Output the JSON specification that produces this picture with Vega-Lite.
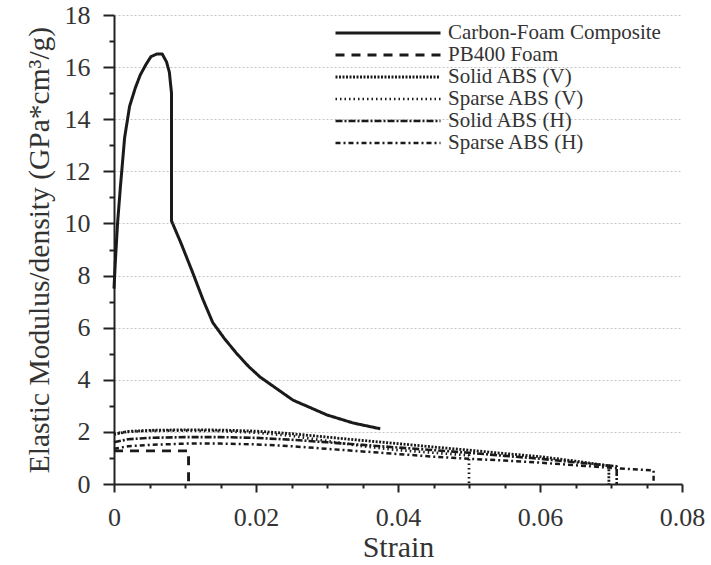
{
  "$schema": "https://vega.github.io/schema/vega-lite/v6.json",
  "autosize": "none",
  "width": 568,
  "height": 469,
  "padding": {"left": 114, "top": 15, "right": 29, "bottom": 81},
  "background": "white",
  "config": {
    "view": {"stroke": null},
    "font": "Liberation Serif"
  },
  "data": {
    "values": [
      {"series": "Carbon-Foam Composite", "i": 1, "x": 0.0, "y": 7.5},
      {"series": "Carbon-Foam Composite", "i": 2, "x": 0.0002, "y": 8.6},
      {"series": "Carbon-Foam Composite", "i": 3, "x": 0.0005, "y": 10.0},
      {"series": "Carbon-Foam Composite", "i": 4, "x": 0.0009, "y": 11.4},
      {"series": "Carbon-Foam Composite", "i": 5, "x": 0.0015, "y": 13.3},
      {"series": "Carbon-Foam Composite", "i": 6, "x": 0.0022, "y": 14.5},
      {"series": "Carbon-Foam Composite", "i": 7, "x": 0.003, "y": 15.2},
      {"series": "Carbon-Foam Composite", "i": 8, "x": 0.0037, "y": 15.7},
      {"series": "Carbon-Foam Composite", "i": 9, "x": 0.0045, "y": 16.1},
      {"series": "Carbon-Foam Composite", "i": 10, "x": 0.0052, "y": 16.4},
      {"series": "Carbon-Foam Composite", "i": 11, "x": 0.006, "y": 16.5},
      {"series": "Carbon-Foam Composite", "i": 12, "x": 0.0068, "y": 16.5},
      {"series": "Carbon-Foam Composite", "i": 13, "x": 0.0074, "y": 16.2},
      {"series": "Carbon-Foam Composite", "i": 14, "x": 0.0078, "y": 15.8},
      {"series": "Carbon-Foam Composite", "i": 15, "x": 0.0081, "y": 15.0},
      {"series": "Carbon-Foam Composite", "i": 16, "x": 0.0081, "y": 10.1},
      {"series": "Carbon-Foam Composite", "i": 17, "x": 0.0095, "y": 9.2},
      {"series": "Carbon-Foam Composite", "i": 18, "x": 0.0111, "y": 8.1},
      {"series": "Carbon-Foam Composite", "i": 19, "x": 0.0125, "y": 7.1},
      {"series": "Carbon-Foam Composite", "i": 20, "x": 0.0139, "y": 6.2},
      {"series": "Carbon-Foam Composite", "i": 21, "x": 0.0155, "y": 5.6},
      {"series": "Carbon-Foam Composite", "i": 22, "x": 0.0173, "y": 5.0},
      {"series": "Carbon-Foam Composite", "i": 23, "x": 0.019, "y": 4.5},
      {"series": "Carbon-Foam Composite", "i": 24, "x": 0.0206, "y": 4.1},
      {"series": "Carbon-Foam Composite", "i": 25, "x": 0.0252, "y": 3.22},
      {"series": "Carbon-Foam Composite", "i": 26, "x": 0.03, "y": 2.65},
      {"series": "Carbon-Foam Composite", "i": 27, "x": 0.0337, "y": 2.34},
      {"series": "Carbon-Foam Composite", "i": 28, "x": 0.0375, "y": 2.12},

      {"series": "PB400 Foam", "i": 1, "x": 0.0, "y": 1.27},
      {"series": "PB400 Foam", "i": 2, "x": 0.0105, "y": 1.27},
      {"series": "PB400 Foam", "i": 3, "x": 0.0105, "y": 0.0},

      {"series": "Solid ABS (V)", "i": 1, "x": 0.0, "y": 1.9},
      {"series": "Solid ABS (V)", "i": 2, "x": 0.002, "y": 2.02},
      {"series": "Solid ABS (V)", "i": 3, "x": 0.005, "y": 2.06},
      {"series": "Solid ABS (V)", "i": 4, "x": 0.01, "y": 2.08},
      {"series": "Solid ABS (V)", "i": 5, "x": 0.015, "y": 2.07},
      {"series": "Solid ABS (V)", "i": 6, "x": 0.02, "y": 2.03},
      {"series": "Solid ABS (V)", "i": 7, "x": 0.025, "y": 1.93},
      {"series": "Solid ABS (V)", "i": 8, "x": 0.03, "y": 1.8},
      {"series": "Solid ABS (V)", "i": 9, "x": 0.035, "y": 1.67},
      {"series": "Solid ABS (V)", "i": 10, "x": 0.04, "y": 1.55},
      {"series": "Solid ABS (V)", "i": 11, "x": 0.045, "y": 1.42},
      {"series": "Solid ABS (V)", "i": 12, "x": 0.05, "y": 1.3},
      {"series": "Solid ABS (V)", "i": 13, "x": 0.055, "y": 1.17},
      {"series": "Solid ABS (V)", "i": 14, "x": 0.06, "y": 1.05},
      {"series": "Solid ABS (V)", "i": 15, "x": 0.065, "y": 0.88},
      {"series": "Solid ABS (V)", "i": 16, "x": 0.0697, "y": 0.7},
      {"series": "Solid ABS (V)", "i": 17, "x": 0.0697, "y": 0.0},

      {"series": "Sparse ABS (V)", "i": 1, "x": 0.0, "y": 1.95},
      {"series": "Sparse ABS (V)", "i": 2, "x": 0.002, "y": 2.0},
      {"series": "Sparse ABS (V)", "i": 3, "x": 0.005, "y": 2.04},
      {"series": "Sparse ABS (V)", "i": 4, "x": 0.01, "y": 2.05},
      {"series": "Sparse ABS (V)", "i": 5, "x": 0.015, "y": 2.03},
      {"series": "Sparse ABS (V)", "i": 6, "x": 0.02, "y": 1.97},
      {"series": "Sparse ABS (V)", "i": 7, "x": 0.025, "y": 1.85},
      {"series": "Sparse ABS (V)", "i": 8, "x": 0.03, "y": 1.65},
      {"series": "Sparse ABS (V)", "i": 9, "x": 0.035, "y": 1.45},
      {"series": "Sparse ABS (V)", "i": 10, "x": 0.04, "y": 1.3},
      {"series": "Sparse ABS (V)", "i": 11, "x": 0.045, "y": 1.2},
      {"series": "Sparse ABS (V)", "i": 12, "x": 0.05, "y": 1.1},
      {"series": "Sparse ABS (V)", "i": 13, "x": 0.05, "y": 0.0},

      {"series": "Solid ABS (H)", "i": 1, "x": 0.0, "y": 1.6},
      {"series": "Solid ABS (H)", "i": 2, "x": 0.002, "y": 1.72},
      {"series": "Solid ABS (H)", "i": 3, "x": 0.005, "y": 1.77},
      {"series": "Solid ABS (H)", "i": 4, "x": 0.01, "y": 1.8},
      {"series": "Solid ABS (H)", "i": 5, "x": 0.015, "y": 1.8},
      {"series": "Solid ABS (H)", "i": 6, "x": 0.02, "y": 1.77},
      {"series": "Solid ABS (H)", "i": 7, "x": 0.025, "y": 1.7},
      {"series": "Solid ABS (H)", "i": 8, "x": 0.03, "y": 1.6},
      {"series": "Solid ABS (H)", "i": 9, "x": 0.035, "y": 1.5},
      {"series": "Solid ABS (H)", "i": 10, "x": 0.04, "y": 1.4},
      {"series": "Solid ABS (H)", "i": 11, "x": 0.045, "y": 1.3},
      {"series": "Solid ABS (H)", "i": 12, "x": 0.05, "y": 1.2},
      {"series": "Solid ABS (H)", "i": 13, "x": 0.055, "y": 1.08},
      {"series": "Solid ABS (H)", "i": 14, "x": 0.06, "y": 0.97},
      {"series": "Solid ABS (H)", "i": 15, "x": 0.065, "y": 0.83},
      {"series": "Solid ABS (H)", "i": 16, "x": 0.0708, "y": 0.68},
      {"series": "Solid ABS (H)", "i": 17, "x": 0.0708, "y": 0.0},

      {"series": "Sparse ABS (H)", "i": 1, "x": 0.0, "y": 1.35},
      {"series": "Sparse ABS (H)", "i": 2, "x": 0.002, "y": 1.45},
      {"series": "Sparse ABS (H)", "i": 3, "x": 0.005, "y": 1.5},
      {"series": "Sparse ABS (H)", "i": 4, "x": 0.01, "y": 1.55},
      {"series": "Sparse ABS (H)", "i": 5, "x": 0.015, "y": 1.55},
      {"series": "Sparse ABS (H)", "i": 6, "x": 0.02, "y": 1.52},
      {"series": "Sparse ABS (H)", "i": 7, "x": 0.025, "y": 1.45},
      {"series": "Sparse ABS (H)", "i": 8, "x": 0.03, "y": 1.35},
      {"series": "Sparse ABS (H)", "i": 9, "x": 0.035, "y": 1.25},
      {"series": "Sparse ABS (H)", "i": 10, "x": 0.04, "y": 1.15},
      {"series": "Sparse ABS (H)", "i": 11, "x": 0.045, "y": 1.05},
      {"series": "Sparse ABS (H)", "i": 12, "x": 0.05, "y": 0.97},
      {"series": "Sparse ABS (H)", "i": 13, "x": 0.055, "y": 0.9},
      {"series": "Sparse ABS (H)", "i": 14, "x": 0.06, "y": 0.82},
      {"series": "Sparse ABS (H)", "i": 15, "x": 0.065, "y": 0.72},
      {"series": "Sparse ABS (H)", "i": 16, "x": 0.07, "y": 0.62},
      {"series": "Sparse ABS (H)", "i": 17, "x": 0.076, "y": 0.52},
      {"series": "Sparse ABS (H)", "i": 18, "x": 0.076, "y": 0.1}
    ]
  },
  "mark": {"type": "line", "color": "#1a1a1a", "strokeCap": "butt", "strokeJoin": "round"},
  "encoding": {
    "x": {
      "field": "x", "type": "quantitative",
      "scale": {"domain": [0, 0.08], "nice": false, "zero": false},
      "axis": {
        "title": "Strain",
        "titleFont": "Liberation Serif", "titleFontSize": 30, "titleFontWeight": "normal", "titleColor": "#333", "titlePadding": 2,
        "values": [0, 0.005, 0.01, 0.015, 0.02, 0.025, 0.03, 0.035, 0.04, 0.045, 0.05, 0.055, 0.06, 0.065, 0.07, 0.075, 0.08],
        "labelExpr": "abs(datum.value*50 - round(datum.value*50)) < 0.000001 ? toString(round(datum.value*100)/100) : ''",
        "labelFont": "Liberation Serif", "labelFontSize": 26, "labelColor": "#333", "labelPadding": 12,
        "labelFlush": false, "labelOverlap": false,
        "domainColor": "#222", "domainWidth": 2,
        "tickColor": "#222", "tickWidth": 2,
        "tickSize": {"condition": {"test": "abs(datum.value*50 - round(datum.value*50)) < 0.000001", "value": 8}, "value": 4},
        "grid": false
      }
    },
    "y": {
      "field": "y", "type": "quantitative",
      "scale": {"domain": [0, 18], "nice": false},
      "axis": {
        "title": "Elastic Modulus/density (GPa*cm³/g)",
        "titleFont": "Liberation Serif", "titleFontSize": 29.5, "titleFontWeight": "normal", "titleColor": "#333", "titlePadding": 10,
        "values": [0, 1, 2, 3, 4, 5, 6, 7, 8, 9, 10, 11, 12, 13, 14, 15, 16, 17, 18],
        "labelExpr": "datum.value % 2 === 0 ? datum.label : ''",
        "labelFont": "Liberation Serif", "labelFontSize": 26, "labelColor": "#333", "labelPadding": 13,
        "labelFlush": false, "labelOverlap": false,
        "domainColor": "#222", "domainWidth": 2,
        "tickColor": "#222", "tickWidth": 2,
        "tickSize": {"condition": {"test": "datum.value % 2 === 0", "value": 11}, "value": 5},
        "grid": true, "gridColor": "#c4c4c4", "gridDash": [2, 2], "gridWidth": 1.2,
        "gridOpacity": {"condition": {"test": "datum.value % 2 === 0 && datum.value > 0", "value": 1}, "value": 0}
      }
    },
    "order": {"field": "i", "type": "quantitative"},
    "strokeDash": {
      "field": "series", "type": "nominal",
      "scale": {
        "domain": ["Carbon-Foam Composite", "PB400 Foam", "Solid ABS (V)", "Sparse ABS (V)", "Solid ABS (H)", "Sparse ABS (H)"],
        "range": [[1, 0], [9, 7], [2, 1.5], [1.5, 3], [7, 2, 2, 2], [5, 3, 2, 3]]
      },
      "legend": {
        "title": null, "orient": "none", "legendX": 262, "legendY": 6,
        "symbolType": "M-5,0H5", "symbolSize": 441, "symbolStrokeColor": "#1a1a1a", "symbolStrokeWidth": 2.8,
        "labelFont": "Liberation Serif", "labelFontSize": 21, "labelColor": "#333", "labelOffset": 48, "labelLimit": 400,
        "rowPadding": -2, "padding": 0
      }
    },
    "strokeWidth": {
      "field": "series", "type": "nominal",
      "scale": {
        "domain": ["Carbon-Foam Composite", "PB400 Foam", "Solid ABS (V)", "Sparse ABS (V)", "Solid ABS (H)", "Sparse ABS (H)"],
        "range": [3, 2.5, 2, 1.6, 2.5, 2]
      },
      "legend": null
    }
  }
}
